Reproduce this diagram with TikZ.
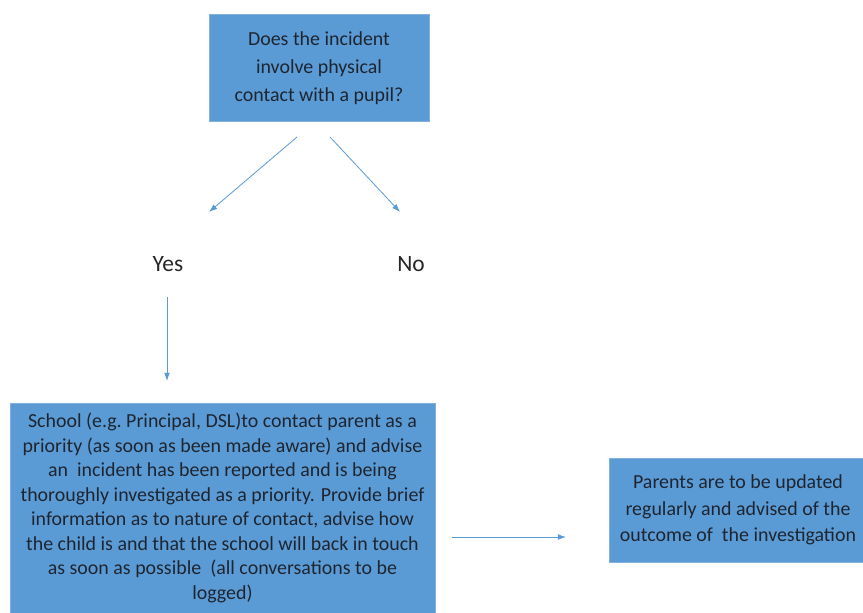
\documentclass[tikz,border=0pt]{standalone}
\usepackage{fontspec}
\setmainfont{Carlito}
\usepackage{tikz}
\usetikzlibrary{positioning,arrows.meta}
\definecolor{boxblue}{HTML}{5B9BD5}
\definecolor{boxline}{HTML}{7FB0DE}
\definecolor{boxtext}{HTML}{1E2530}
\tikzstyle{step box} = [draw=boxline, line width=0.4pt, fill=boxblue, text=boxtext, align=center, inner sep=0pt]
\tikzstyle{answer} = [text=black!85, font=\fontsize{20}{24}\selectfont]
\tikzstyle{flow} = [draw=boxblue, line width=0.7pt, -{Latex[length=7pt, width=5pt]}]

\begin{document}
\begin{tikzpicture}[x=0.03cm, y=-0.03cm]
    \useasboundingbox (0, 0) rectangle (863, 613);
    \node[step box, minimum width=220*0.03cm, minimum height=107*0.03cm,
        font=\fontsize{17}{23.9}\selectfont] (q) at (319, 68) {Does the incident\\ involve\ physical\\ contact with a pupil?};
    \node[answer] (yes) at (168, 264) {Yes};
    \node[answer] (no) at (411, 264) {No};
    \node[step box, minimum width=425*0.03cm, minimum height=210*0.03cm,
        font=\fontsize{17}{20.9}\selectfont] (contact) at (222.5, 508) {School (e.g.\ Principal, DSL)to contact parent as a\\ priority (as soon as been made aware) and advise\\ an\ \ incident has been reported and is being\\ thoroughly investigated as a priority. Provide brief\\ information as to nature of contact, advise how\\ the child is and that the school will back in touch\\ as soon as possible\ \ (all conversations to be\\ logged)};
    \node[step box, minimum width=258*0.03cm, minimum height=104*0.03cm,
        font=\fontsize{17}{22.6}\selectfont] (update) at (738, 510) {Parents are to be updated\\ regularly and advised of the\\ outcome of\ \ the investigation};
    \coordinate (qyes) at (297, 137);
    \coordinate (ayes) at (209, 212);
    \coordinate (qno) at (330, 137);
    \coordinate (ano) at (400, 212);
    \coordinate (yesdown) at (167, 297);
    \coordinate (cont) at (167, 381);
    \coordinate (tonext) at (452, 537);
    \coordinate (next) at (566, 537);
    \draw[flow] (qyes) -- (ayes);
    \draw[flow] (qno) -- (ano);
    \draw[flow] (yesdown) -- (cont);
    \draw[flow] (tonext) -- (next);
\end{tikzpicture}
\end{document}
